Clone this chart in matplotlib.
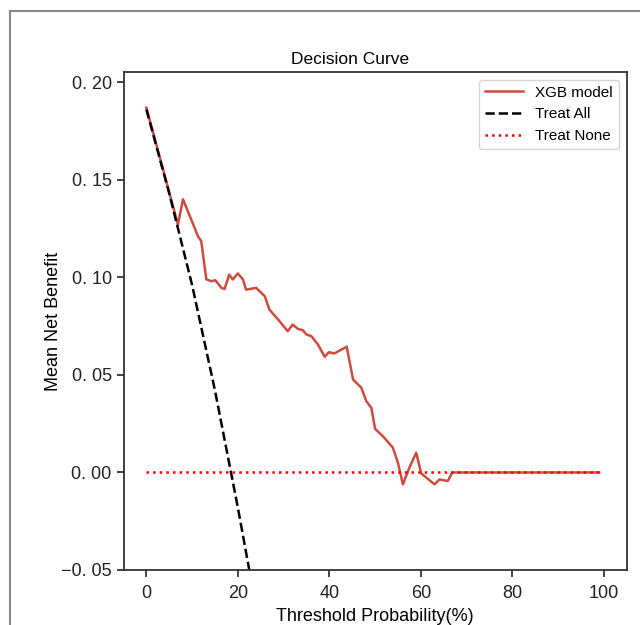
'''
Decision curve for the XGB model
'''

import matplotlib
matplotlib.use("Agg")
import matplotlib.pyplot as plt
from matplotlib.lines import Line2D

plt.rcParams['font.family'] = ['Liberation Sans', 'DejaVu Sans']

# Data
xgb_thresh = [0, 6.9, 8.0, 11.3, 12.0, 13.1, 14.2, 15.1, 16.4, 17.1, 18.1, 18.9, 20.0,
              21.1, 21.8, 24.0, 25.9, 26.9, 28.8, 30.9, 32.0, 33.1, 34.2, 35.0, 36.1,
              37.5, 39.0, 39.9, 41.1, 43.8, 45.2, 47.0, 48.1, 49.2, 50.0, 51.7, 53.9,
              55.0, 56.1, 57.5, 59.0, 60.1, 63.0, 64.1, 65.9, 66.9, 99.0]
xgb_benefit = [0.187, 0.127, 0.140, 0.121, 0.1185, 0.099, 0.098, 0.0985, 0.0946, 0.094,
               0.1014, 0.0989, 0.102, 0.099, 0.0937, 0.0946, 0.0903, 0.0835, 0.0784,
               0.0724, 0.0758, 0.0736, 0.0729, 0.0707, 0.0698, 0.0656, 0.0593, 0.0616,
               0.061, 0.0644, 0.0476, 0.0434, 0.0365, 0.0331, 0.0224, 0.0186, 0.0127,
               0.005, -0.0061, 0.0024, 0.0101, -0.0005, -0.0061, -0.0036, -0.0044, 0.0, 0.0]

all_thresh = [0, 5, 10, 15, 20, 22.5, 25]
all_benefit = [0.186, 0.143, 0.096, 0.042, -0.018, -0.050, -0.085]

none_thresh = [0, 99]
none_benefit = [0, 0]

yticks = [-0.05, 0.0, 0.05, 0.10, 0.15, 0.20]
ytick_labels = ["\u22120. 05", "0. 00", "0. 05", "0. 10", "0. 15", "0. 20"]
xticks = [0, 20, 40, 60, 80, 100]

# Plot
fig = plt.figure(figsize=(6.4, 6.25), dpi=100)
ax = fig.add_axes([0.193, 0.088, 0.786, 0.797])

ax.plot(xgb_thresh, xgb_benefit, color='#cf4b3e', lw=1.8, label='XGB model')
ax.plot(all_thresh, all_benefit, color='black', ls='--', lw=1.8, label='Treat All')
ax.plot(none_thresh, none_benefit, color='red', ls=':', lw=1.8, label='Treat None')

ax.set_xlim(-5, 105)
ax.set_ylim(-0.05, 0.2053)
ax.set_xticks(xticks)
ax.set_yticks(yticks)
ax.set_yticklabels(ytick_labels)
ax.tick_params(direction='out', length=5, width=1.2, labelsize=13, colors='#222222')
ax.tick_params(axis='x', pad=6)
for s in ax.spines.values():
    s.set_linewidth(1.3)
    s.set_color('#333333')

ax.set_title("Decision Curve", fontsize=12.5, x=0.45, pad=6)
ax.set_xlabel("Threshold Probability(%)", fontsize=13, labelpad=4)
ax.set_ylabel("Mean Net Benefit", fontsize=13, labelpad=-1)
ax.legend(loc='upper right', fontsize=11, handlelength=2.5, edgecolor='#cccccc')

# scan frame lines
fig.add_artist(Line2D([0.015, 1.0], [0.983, 0.983], color='#888888', lw=1.5))
fig.add_artist(Line2D([0.015, 0.015], [0.0, 0.983], color='#888888', lw=1.5))

fig.savefig("out.png", dpi=100)
